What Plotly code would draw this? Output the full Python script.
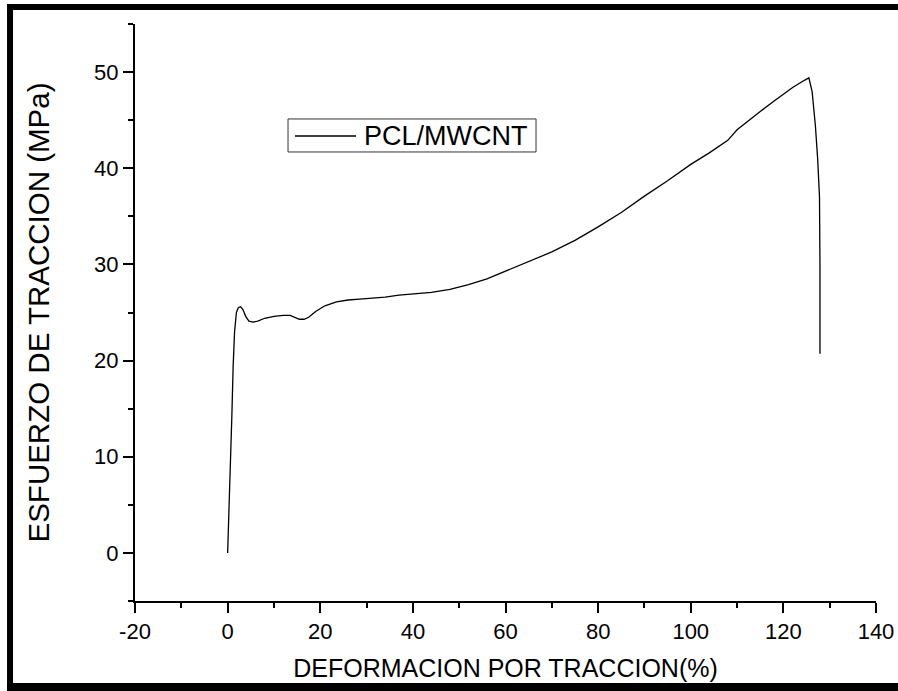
import plotly.graph_objects as go

# Tensile test curve for the PCL/MWCNT composite
strain_pct = [0, 0.3, 0.6, 0.9, 1.2, 1.5, 1.9, 2.3, 2.8, 3.3, 3.9, 4.6, 5.5, 6.5,
              8, 10, 12, 13.5, 14.5, 15.5, 16.5, 17.5, 19, 21, 23.5, 26, 28.5,
              31, 34, 37, 40, 44, 48, 52, 56, 60, 65, 70, 75, 80, 85, 90, 95,
              100, 104, 108, 110, 112, 115, 118, 120, 122, 124, 125.5, 126.2,
              126.9, 127.4, 127.8, 127.9, 127.9]
stress_mpa = [0, 4, 8, 14, 19.5, 23, 25, 25.5, 25.6, 25.3, 24.6, 24.1, 24.0, 24.1,
              24.4, 24.6, 24.7, 24.7, 24.5, 24.3, 24.3, 24.5, 25.1, 25.7, 26.1, 26.3, 26.4,
              26.5, 26.6, 26.8, 26.9, 27.1, 27.4, 27.9, 28.5, 29.3, 30.3, 31.3, 32.5, 33.9,
              35.4, 37.1, 38.7, 40.4, 41.6, 42.9, 44.0, 44.8, 45.9, 47.0, 47.7, 48.4, 49.0,
              49.4, 48.0, 44.5, 41.0, 37.0, 30.0, 20.7]

series_name = "PCL/MWCNT"
x_title = "DEFORMACION POR TRACCION(%)"
y_title = "ESFUERZO DE TRACCION (MPa)"
x_ticks = [-20, 0, 20, 40, 60, 80, 100, 120, 140]
x_tick_text = ["-20", "0", "20", "40", "60", "80", "100", "120", "140"]
y_ticks = [0, 10, 20, 30, 40, 50]

FONT = "Arial, Liberation Sans, sans-serif"

fig = go.Figure()
fig.add_trace(go.Scatter(
    x=strain_pct, y=stress_mpa, mode="lines", name=series_name,
    line=dict(color="black", width=1.3), showlegend=False,
))

axis_common = dict(
    showline=True, linecolor="black", linewidth=2,
    ticks="outside", ticklen=10, tickwidth=2, tickcolor="black",
    showgrid=False, zeroline=False, mirror=False, automargin=False,
    tickfont=dict(family=FONT, size=22, color="black"),
)

fig.update_xaxes(
    range=[-20, 140], tickvals=x_ticks, ticktext=x_tick_text,
    minor=dict(ticks="outside", ticklen=5, tickwidth=2, tickcolor="black", dtick=10, tick0=0),
    title=dict(text=x_title, font=dict(family=FONT, size=25, color="black"), standoff=16),
    **axis_common,
)
fig.update_yaxes(
    range=[-5, 55], tickvals=y_ticks,
    minor=dict(ticks="outside", ticklen=5, tickwidth=2, tickcolor="black", dtick=5, tick0=0),
    title=dict(text=y_title, font=dict(family=FONT, size=29.5, color="black"), standoff=36),
    **axis_common,
)

# Legend drawn as a framed sample line plus label
shapes = [
    dict(type="rect", xref="paper", yref="paper", x0=0.2065, x1=0.5412, y0=0.7782, y1=0.8354,
         line=dict(color="#333333", width=1), fillcolor="white"),
    dict(type="line", xref="paper", yref="paper", x0=0.2159, x1=0.2982, y0=0.8059, y1=0.8059,
         line=dict(color="black", width=1.3)),
    # heavy frame around the figure (left, top, bottom edges)
    dict(type="rect", xref="paper", yref="paper", x0=-0.1727, x1=-0.1646, y0=-0.16, y1=1.0347,
         line=dict(width=0), fillcolor="black"),
    dict(type="rect", xref="paper", yref="paper", x0=-0.1727, x1=1.04, y0=1.0243, y1=1.0347,
         line=dict(width=0), fillcolor="black"),
    dict(type="rect", xref="paper", yref="paper", x0=-0.1727, x1=1.04, y0=-0.16, y1=-0.1421,
         line=dict(width=0), fillcolor="black"),
]

annotations = [
    dict(text=series_name, xref="paper", yref="paper", x=0.3063, y=0.8059,
         xanchor="left", yanchor="middle", showarrow=False,
         font=dict(family=FONT, size=27, color="black")),
]

fig.update_layout(
    width=898, height=691,
    margin=dict(l=135, r=22, t=24, b=90),
    paper_bgcolor="white", plot_bgcolor="white",
    shapes=shapes, annotations=annotations,
    showlegend=False,
)

fig.write_html("out.html")
